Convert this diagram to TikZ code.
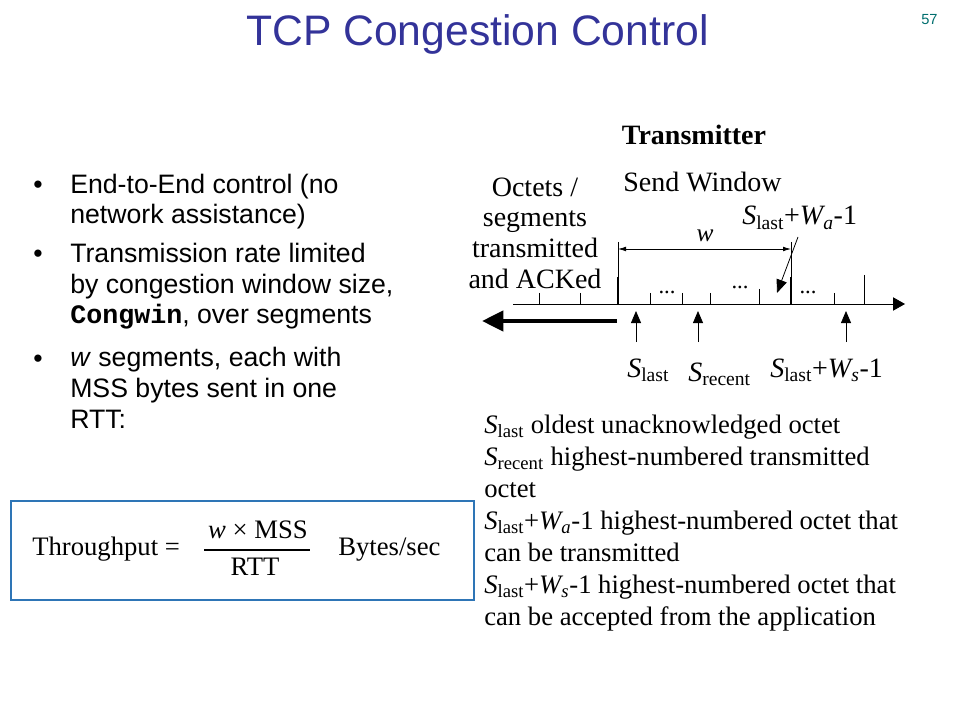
\documentclass[tikz,border=0pt]{standalone}
\usepackage{fontspec}
\setmainfont{Liberation Serif}
\newfontfamily\arialfont{Liberation Sans}
\newfontfamily\courfont{Liberation Mono}
\usetikzlibrary{arrows.meta, positioning}
\definecolor{titleblue}{RGB}{51, 51, 153}
\definecolor{pageteal}{RGB}{0, 110, 110}
\definecolor{boxblue}{RGB}{46, 117, 182}
\newcommand{\Slast}{\textit{S}\textsubscript{last}}
\newcommand{\Srecent}{\textit{S}\textsubscript{recent}}

\begin{document}
\begin{tikzpicture}[x=0.75pt, y=-0.75pt,
    txt/.style={inner sep=0pt, anchor=base west},
    bul/.style={txt, font=\arialfont\fontsize{20pt}{23pt}\selectfont, align=left},
    lbl/.style={txt, font=\fontsize{21pt}{23pt}\selectfont},
    body/.style={txt, font=\fontsize{20pt}{24pt}\selectfont, align=left},
    tick/.style={line width=0.6pt},
    edge/.style={line width=1.6pt},
    upArrow/.style={-{Triangle[length=9pt, width=7.5pt]}, line width=0.6pt}]
    \useasboundingbox (0,0) rectangle (960,720);

    % titel
    \node[txt, font=\arialfont\fontsize{32pt}{36pt}\selectfont, text=titleblue] (title) at (246,46) {TCP Congestion Control};
    \node[txt, font=\arialfont\fontsize{11pt}{13pt}\selectfont, text=pageteal] (pagenum) at (921,25) {57};

    % bullets (base = last line)
    \node[bul] (dot1) at (33,194) {•};
    \node[bul] (item1) at (70,224) {End-to-End control (no\\network assistance)};
    \node[bul] (dot2) at (33,263) {•};
    \node[bul] (item2) at (70,324) {Transmission rate limited\\by congestion window size,\\{\courfont\bfseries Congwin}, over segments};
    \node[bul] (dot3) at (33,367) {•};
    \node[bul] (item3) at (70,428) {\textit{w} segments, each with\\MSS bytes sent in one\\RTT:};

    % throughput box
    \node[draw=boxblue, line width=1.5pt, minimum width=347pt, minimum height=74pt, inner sep=0pt] (tbox) at (242.5,550.5) {};
    \node[body] (thru) at (32,555) {Throughput =};
    \node[body, anchor=base] (num) at (258,538) {\textit{w} × MSS};
    \node[body, anchor=base] (den) at (255,575) {RTT};
    \draw[line width=1pt] (204,550) -- (310,550);
    \node[body] (unit) at (338,555) {Bytes/sec};

    % transmitter
    \node[lbl, anchor=base, font=\bfseries\fontsize{21pt}{23pt}\selectfont] (tx) at (694,145) {Transmitter};
    \node[lbl] (sendwin) at (623,192) {Send Window};
    \node[lbl, anchor=base, align=center] (acked) at (535,288) {Octets /\\segments\\transmitted\\and ACKed};
    \node[lbl] (waLbl) at (742,225) {\Slast+\textit{W\textsubscript{a}}-1};

    % time line
    \coordinate (axL) at (513,304);
    \coordinate (axR) at (905,304);
    \draw[-{Triangle[length=9pt, width=10pt]}, line width=0.6pt] (axL) -- (axR);
    \foreach \x in {539,580,650,682,710,834}
        \draw[tick] (\x,293) -- (\x,304);
    \draw[tick] (759,289) -- (759,304);
    \draw[tick] (864,275) -- (864,304);
    \node[lbl, anchor=base, font=\fontsize{17pt}{20pt}\selectfont] (dots1) at (667,294) {...};
    \node[lbl, anchor=base, font=\fontsize{17pt}{20pt}\selectfont] (dots2) at (740,289) {...};
    \node[lbl, anchor=base, font=\fontsize{17pt}{20pt}\selectfont] (dots3) at (808,294) {...};

    % window edges
    \coordinate (wL) at (618,249);
    \coordinate (wR) at (791,249);
    \draw[edge] (618,277) -- (618,304);
    \draw[edge] (791,277) -- (791,304);
    \draw[tick] (618,242) -- (618,277);
    \draw[tick] (791,242) -- (791,277);
    \draw[{Latex[length=6pt, width=3.5pt]}-{Latex[length=6pt, width=3.5pt]}, line width=0.6pt] (wL) -- (wR);
    \node[lbl, anchor=base, font=\itshape\fontsize{19pt}{21pt}\selectfont] (wLbl) at (705,242) {w};

    % pointers
    \coordinate (waTail) at (798,237);
    \coordinate (waHead) at (777,293);
    \draw[-{Triangle[length=10pt, width=8pt]}, line width=0.6pt] (waTail) -- (waHead);
    \coordinate (ackR) at (617,321);
    \coordinate (ackL) at (482,321);
    \draw[-{Triangle[length=16pt, width=15pt]}, line width=3.3pt] (ackR) -- (ackL);
    \coordinate (lastTail) at (636,342);
    \coordinate (lastHead) at (636,311);
    \coordinate (recentTail) at (698,342);
    \coordinate (recentHead) at (698,311);
    \coordinate (wsTail) at (846,342);
    \coordinate (wsHead) at (846,311);
    \draw[upArrow] (lastTail) -- (lastHead);
    \draw[upArrow] (recentTail) -- (recentHead);
    \draw[upArrow] (wsTail) -- (wsHead);
    \node[lbl] (lastLbl) at (627,377) {\Slast};
    \node[lbl] (recentLbl) at (688,381) {\Srecent};
    \node[lbl] (wsLbl) at (770,377) {\Slast+\textit{W\textsubscript{s}}-1};

    % legend (base = last line)
    \node[body] (legend) at (484,625) {\Slast{} oldest unacknowledged octet\\
        \Srecent{} highest-numbered transmitted\\
        octet\\
        \Slast+\textit{W\textsubscript{a}}-1 highest-numbered octet that\\
        can be transmitted\\
        \Slast+\textit{W\textsubscript{s}}-1 highest-numbered octet that\\
        can be accepted from the application};
\end{tikzpicture}
\end{document}
